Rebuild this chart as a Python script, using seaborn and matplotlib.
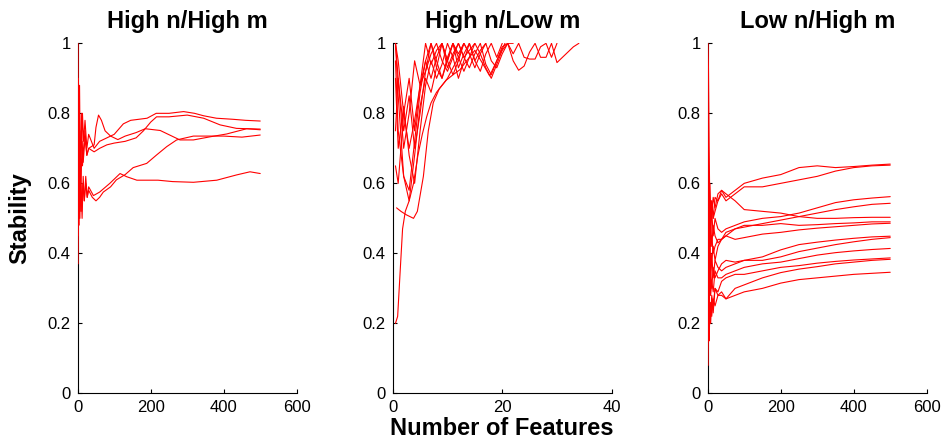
import matplotlib
matplotlib.use("Agg")
import matplotlib.pyplot as plt
import seaborn as sns
import pandas as pd

# ---------------- data ----------------
titles = ["High n/High m", "High n/Low m", "Low n/High m"]
y_ticks = [0, 0.2, 0.4, 0.6, 0.8, 1]
y_tick_labels = ["0", "0.2", "0.4", "0.6", "0.8", "1"]
x_ticks_wide = [0, 200, 400, 600]
x_tick_labels_wide = ["0", "200", "400", "600"]
x_ticks_narrow = [0, 20, 40]
x_tick_labels_narrow = ["0", "20", "40"]

# Panel 1: High n / High m (5 runs)
p1_a_x = [1, 2, 3, 5, 7, 10, 13, 16, 20, 25, 30, 45, 60, 80, 100, 125, 145, 190, 215, 250, 290, 320, 345, 380, 425, 460, 500]
p1_a_y = [1.0, 0.7, 0.6, 0.88, 0.65, 0.7, 0.8, 0.72, 0.78, 0.7, 0.74, 0.70, 0.72, 0.73, 0.74, 0.77, 0.78, 0.786, 0.80, 0.80, 0.805, 0.80, 0.793, 0.786, 0.783, 0.78, 0.778]
p1_b_x = [1, 2, 4, 6, 8, 10, 13, 16, 20, 25, 30, 45, 60, 80, 100, 130, 160, 180, 200, 216, 250, 300, 345, 390, 435, 500]
p1_b_y = [0.5, 0.75, 0.85, 0.62, 0.72, 0.8, 0.65, 0.7, 0.75, 0.68, 0.7, 0.69, 0.7, 0.71, 0.715, 0.72, 0.73, 0.75, 0.775, 0.79, 0.79, 0.795, 0.786, 0.767, 0.757, 0.755]
p1_c_x = [1, 2, 4, 6, 9, 12, 15, 20, 25, 30, 45, 50, 57, 65, 75, 90, 110, 130, 160, 185, 226, 262, 280, 317, 363, 408, 463, 500]
p1_c_y = [0.7, 0.9, 0.5, 0.75, 0.6, 0.72, 0.66, 0.73, 0.68, 0.7, 0.71, 0.76, 0.795, 0.78, 0.75, 0.735, 0.725, 0.735, 0.745, 0.756, 0.751, 0.733, 0.724, 0.724, 0.733, 0.741, 0.756, 0.753]
p1_d_x = [1, 2, 3, 5, 7, 9, 12, 15, 18, 22, 26, 30, 40, 50, 60, 70, 90, 106, 130, 152, 189, 216, 244, 271, 317, 400, 450, 500]
p1_d_y = [0.45, 0.6, 0.48, 0.65, 0.52, 0.6, 0.5, 0.62, 0.55, 0.6, 0.56, 0.58, 0.56, 0.55, 0.56, 0.575, 0.59, 0.61, 0.625, 0.645, 0.657, 0.681, 0.705, 0.724, 0.735, 0.735, 0.732, 0.738]
p1_e_x = [1, 2, 4, 6, 8, 11, 14, 18, 22, 26, 30, 43, 60, 88, 116, 134, 162, 220, 260, 317, 381, 435, 472, 500]
p1_e_y = [0.37, 0.55, 0.7, 0.5, 0.65, 0.52, 0.6, 0.55, 0.62, 0.56, 0.59, 0.565, 0.575, 0.6, 0.628, 0.619, 0.609, 0.609, 0.605, 0.603, 0.609, 0.624, 0.633, 0.628]

# Panel 2: High n / Low m
p2_a_x = [0.5, 0.9, 1.4, 1.8, 2.3, 3.0, 3.8, 4.6, 5.4, 6.2, 7.0, 8.0, 9.0, 10.0, 11.0, 12.0, 13.0, 14.0]
p2_a_y = [0.2, 0.22, 0.36, 0.47, 0.52, 0.55, 0.6, 0.68, 0.74, 0.79, 0.83, 0.86, 0.88, 0.9, 0.93, 0.96, 1.0, 0.97]
p2_b_x = [0.7, 1.5, 2.5, 3.8, 4.5, 5.6, 6.5, 7.4, 8.5, 9.8, 11.0, 12.3, 13.5, 15.0, 16.5, 17.7, 19.0, 20.5]
p2_b_y = [0.53, 0.52, 0.51, 0.5, 0.52, 0.62, 0.75, 0.83, 0.87, 0.895, 0.91, 0.925, 0.95, 0.98, 0.94, 0.907, 0.95, 1.0]
p2_grid = [0.5, 1, 2, 3, 4, 5, 6, 7, 8, 9, 10, 11, 12, 13, 14, 15, 16, 17, 18,
           19, 20, 21, 22, 23, 24, 25, 26, 27, 28, 29, 30, 31, 32, 33, 34]
p2_c_y = [1.0, 0.95, 0.8, 0.7, 0.78, 0.88, 0.92, 0.97, 1.0, 0.95, 0.92, 0.96, 1.0, 0.96, 0.93, 0.97, 1.0, 0.94,
          0.91, 0.95, 0.99, 1.0, 0.95, 0.923, 0.935, 0.975, 1.0, 0.96, 0.96, 1.0, 0.945, 0.96, 0.975, 0.99, 1.0]
p2_d_y = [1.0, 0.85, 0.62, 0.58, 0.72, 0.86, 0.95, 1.0, 0.93, 0.9, 0.95, 1.0, 0.96, 0.92, 0.96, 1.0, 0.97, 0.93,
          0.9, 0.94, 0.98, 1.0, 0.97, 1.0, 0.96, 0.955, 0.955, 0.99, 1.0, 0.96, 1.0]
p2_e_y = [0.95, 0.75, 0.62, 0.55, 0.68, 0.82, 0.9, 0.86, 0.93, 1.0, 0.95, 0.91, 0.95, 1.0, 0.97, 0.93, 0.97, 1.0,
          0.95, 0.93, 0.97, 1.0, 1.0]
p2_f_y = [0.9, 0.7, 0.82, 0.68, 0.6, 0.75, 0.88, 0.95, 0.9, 0.94, 1.0, 0.96, 0.9, 0.95, 1.0, 0.95, 0.92, 0.97,
          1.0, 0.96, 1.0]
p2_g_y = [1.0, 0.9, 0.75, 0.85, 0.7, 0.8, 0.92, 1.0, 0.95, 0.9, 0.96, 1.0, 0.93, 0.97, 1.0, 0.95, 0.98, 1.0]
p2_h_y = [0.65, 0.6, 0.8, 0.9, 0.75, 0.88, 0.95, 0.9, 0.96, 1.0, 0.93, 0.97, 1.0, 0.96, 0.98, 1.0]
p2_i_y = [0.75, 0.9, 0.7, 0.8, 0.95, 0.88, 1.0, 0.94, 0.98, 1.0, 0.95, 1.0, 0.97, 1.0]

# Panel 3: Low n / High m (13 runs on a shared grid)
p3_grid = [1, 2, 4, 6, 8, 11, 15, 20, 28, 38, 50, 75, 100, 150, 200, 250, 300, 350, 400, 450, 500]
p3_runs = {
    "r01": [1.0, 0.93, 0.7, 0.5, 0.55, 0.52, 0.56, 0.53, 0.57, 0.58, 0.56, 0.58, 0.60, 0.615, 0.625, 0.645, 0.65, 0.645, 0.648, 0.652, 0.655],
    "r02": [0.6, 0.45, 0.63, 0.5, 0.45, 0.55, 0.5, 0.52, 0.55, 0.57, 0.55, 0.57, 0.59, 0.59, 0.60, 0.61, 0.62, 0.635, 0.645, 0.65, 0.652],
    "r03": [0.3, 0.6, 0.42, 0.55, 0.48, 0.52, 0.45, 0.5, 0.47, 0.46, 0.47, 0.48, 0.49, 0.50, 0.505, 0.515, 0.53, 0.545, 0.553, 0.558, 0.562],
    "r04": [0.2, 0.4, 0.35, 0.5, 0.42, 0.45, 0.4, 0.42, 0.44, 0.44, 0.45, 0.47, 0.475, 0.485, 0.495, 0.505, 0.515, 0.525, 0.533, 0.54, 0.543],
    "r05": [0.9, 0.7, 0.5, 0.6, 0.52, 0.55, 0.5, 0.56, 0.55, 0.58, 0.57, 0.55, 0.525, 0.52, 0.515, 0.505, 0.50, 0.50, 0.502, 0.503, 0.503],
    "r06": [0.5, 0.35, 0.55, 0.4, 0.5, 0.42, 0.48, 0.45, 0.43, 0.44, 0.46, 0.47, 0.48, 0.48, 0.485, 0.48, 0.482, 0.485, 0.487, 0.49, 0.49],
    "r07": [0.15, 0.3, 0.25, 0.4, 0.33, 0.38, 0.42, 0.38, 0.42, 0.44, 0.45, 0.44, 0.445, 0.455, 0.46, 0.467, 0.472, 0.476, 0.48, 0.484, 0.486],
    "r08": [0.7, 0.45, 0.3, 0.45, 0.35, 0.4, 0.33, 0.38, 0.36, 0.35, 0.36, 0.37, 0.38, 0.39, 0.41, 0.425, 0.432, 0.438, 0.443, 0.447, 0.449],
    "r09": [0.35, 0.25, 0.4, 0.28, 0.35, 0.3, 0.36, 0.33, 0.35, 0.37, 0.38, 0.375, 0.38, 0.38, 0.39, 0.405, 0.415, 0.425, 0.433, 0.44, 0.445],
    "r10": [0.6, 0.3, 0.22, 0.35, 0.28, 0.32, 0.29, 0.35, 0.33, 0.33, 0.34, 0.35, 0.36, 0.37, 0.375, 0.385, 0.395, 0.402, 0.407, 0.411, 0.414],
    "r11": [0.08, 0.2, 0.15, 0.25, 0.22, 0.28, 0.25, 0.3, 0.29, 0.32, 0.33, 0.34, 0.34, 0.35, 0.36, 0.365, 0.372, 0.377, 0.381, 0.384, 0.387],
    "r12": [0.25, 0.18, 0.3, 0.2, 0.26, 0.22, 0.27, 0.25, 0.28, 0.28, 0.27, 0.30, 0.31, 0.33, 0.345, 0.355, 0.362, 0.37, 0.375, 0.38, 0.383],
    "r13": [0.45, 0.2, 0.17, 0.24, 0.2, 0.27, 0.23, 0.3, 0.28, 0.29, 0.27, 0.28, 0.29, 0.30, 0.315, 0.325, 0.33, 0.335, 0.34, 0.343, 0.346],
}


def long_frame(runs):
    rows = []
    for name, (xs, ys) in runs.items():
        for i, (xv, yv) in enumerate(zip(xs, ys)):
            rows.append({"run": name, "order": i, "features": xv, "stability": yv})
    return pd.DataFrame(rows)


df1 = long_frame({
    "a": (p1_a_x, p1_a_y), "b": (p1_b_x, p1_b_y), "c": (p1_c_x, p1_c_y),
    "d": (p1_d_x, p1_d_y), "e": (p1_e_x, p1_e_y),
})
df2 = long_frame({
    "a": (p2_a_x, p2_a_y), "b": (p2_b_x, p2_b_y),
    "c": (p2_grid, p2_c_y), "d": (p2_grid, p2_d_y), "e": (p2_grid, p2_e_y),
    "f": (p2_grid, p2_f_y), "g": (p2_grid, p2_g_y), "h": (p2_grid, p2_h_y),
    "i": (p2_grid, p2_i_y),
})
df3 = long_frame({k: (p3_grid, v) for k, v in p3_runs.items()})

# ---------------- style ----------------
sns.set_theme(style="ticks", rc={
    "axes.edgecolor": "black", "axes.linewidth": 0.8,
    "xtick.color": "black", "ytick.color": "black",
    "text.color": "black", "axes.labelcolor": "black",
})
plt.rcParams["font.family"] = ["Liberation Sans", "DejaVu Sans"]

fig = plt.figure(figsize=(9.42, 4.42), dpi=100)
lefts = [0.0825, 0.4169, 0.7513]
axes = [fig.add_axes([l, 0.110, 0.2325, 0.792]) for l in lefts]

frames = [df1, df2, df3]
for i, (ax, df) in enumerate(zip(axes, frames)):
    sns.lineplot(data=df, x="features", y="stability", units="run", estimator=None,
                 sort=False, color="#ff0000", linewidth=0.8, ax=ax, legend=False, zorder=3)
    ax.set_ylim(0, 1)
    if i == 1:
        ax.set_xlim(0, 40)
        ax.set_xticks(x_ticks_narrow)
        ax.set_xticklabels(x_tick_labels_narrow)
    else:
        ax.set_xlim(0, 600)
        ax.set_xticks(x_ticks_wide)
        ax.set_xticklabels(x_tick_labels_wide)
    ax.set_yticks(y_ticks)
    ax.set_yticklabels(y_tick_labels)
    for s in ["top", "right"]:
        ax.spines[s].set_visible(False)
    ax.tick_params(direction="in", length=3, width=0.8, labelsize=12, pad=5,
                   bottom=True, left=True, top=False, right=False)
    ax.set_title(titles[i], fontsize=17, fontweight="bold", pad=10.8)
    ax.set_xlabel("")
    ax.set_ylabel("")

axes[0].set_ylabel("Stability", fontsize=17, fontweight="bold", va="center")
axes[0].yaxis.set_label_coords(-0.263, 0.5)
axes[1].set_xlabel("Number of Features", fontsize=17, fontweight="bold", va="center")
axes[1].xaxis.set_label_coords(0.5, -0.099)

fig.savefig("out.png", dpi=100, facecolor="white")
